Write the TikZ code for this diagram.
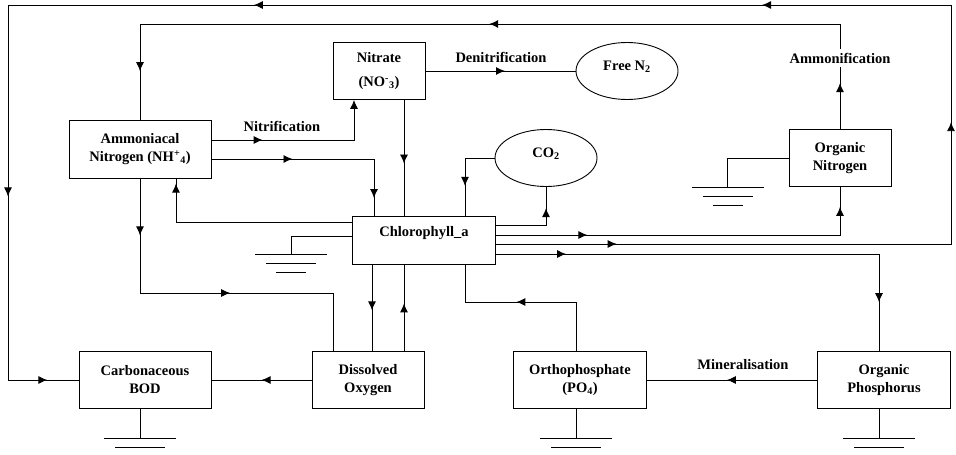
\documentclass[tikz,border=0pt]{standalone}
\usepackage{fontspec}
\setmainfont{Liberation Serif}
\usetikzlibrary{arrows.meta,decorations.markings,shapes.geometric}
\tikzset{
  box/.style={draw, inner sep=0pt, align=center, minimum height=57pt, font=\fontsize{14.5}{18}\selectfont\bfseries},
  oval/.style={ellipse, draw, inner sep=0pt, minimum width=102pt, minimum height=57pt, text depth=10pt, font=\fontsize{14.5}{18}\selectfont\bfseries},
  lbl/.style={font=\fontsize{14.5}{18}\selectfont\bfseries},
  marr/.style={postaction={decorate,decoration={markings,mark=at position #1 with {\arrow{Latex[length=9pt,width=8pt]}}}}},
  earth/.pic={\draw (-36,0) -- (36,0) (-25,9) -- (25,9) (-15,18) -- (15,18);},
  earthtwo/.pic={\draw (-36,0) -- (36,0) (-25,9) -- (25,9);}
}
\begin{document}
\begin{tikzpicture}[x=1pt,y=-1pt,line width=0.9pt]
\useasboundingbox (0,0) rectangle (956,455);
\tikzset{>={Latex[length=9pt,width=8pt]}}
\node[box, minimum width=92pt] (nit) at (379,71) {Nitrate\\[6pt](NO\textsuperscript{-}\textsubscript{3})};
\node[box, minimum width=142pt, minimum height=58pt] (amm) at (140,149) {Ammoniacal\\Nitrogen (NH\textsuperscript{+}\textsubscript{4})};
\node[box, minimum width=143pt, minimum height=48pt, text depth=18pt] (chl) at (424,240) {Chlorophyll\_a};
\node[box, minimum width=102pt] (orgn) at (840,158) {Organic\\Nitrogen};
\node[box, minimum width=132pt] (bod) at (145,380) {Carbonaceous\\BOD};
\node[box, minimum width=112pt] (oxy) at (368,380) {Dissolved\\Oxygen};
\node[box, minimum width=133pt] (ortho) at (580,380) {Orthophosphate\\(PO\textsubscript{4})};
\node[box, minimum width=133pt] (orgp) at (884,380) {Organic\\Phosphorus};
\node[oval] (freen) at (627,71) {Free N\textsubscript{2}};
\node[oval] (co2) at (546,158) {CO\textsubscript{2}};
\node[lbl] (nitrif) at (282,126) {Nitrification};
\node[lbl] (denit) at (501,57) {Denitrification};
\node[lbl] (ammon) at (840,58) {Ammonification};
\node[lbl] (miner) at (743,365) {Mineralisation};
\coordinate (ne) at (951,5);
\coordinate (nw) at (8,5);
\coordinate (ntop) at (840,24);
\coordinate (ammdo) at (140,293);
\coordinate (ortchl) at (576,302);
\draw[marr=0.28,->] ([yshift=9pt]amm.east) -| ([xshift=-25pt]nit.south);
\draw[marr=0.37,marr=0.92] ([yshift=-10pt]amm.east) -| ([xshift=-50pt]chl.north);
\draw[marr=0.55] ([xshift=25pt]nit.south) -- ([xshift=-20pt]chl.north);
\draw[marr=0.53] (nit.east) -- (freen.west);
\draw[marr=0.66] (co2.west) -| ([xshift=41pt]chl.north);
\draw[marr=0.76] ([yshift=15pt]chl.east) -| (co2.south);
\draw[marr=0.977] ([yshift=18pt]chl.west) -| ([xshift=36pt]amm.south);
\draw[marr=0.233,marr=0.949] ([yshift=5pt]chl.east) -| (orgn.south);
\draw[marr=0.058,marr=0.277,marr=0.424,marr=0.668,marr=0.878,marr=0.985] ([yshift=-4pt]chl.east) -| (ne) -- (nw) |- (bod.west);
\draw[marr=0.146,marr=0.898] ([yshift=-14pt]chl.east) -| ([xshift=-5pt]orgp.north);
\draw[marr=0.74] (orgn.north) -- (ammon.south);
\draw[marr=0.458,marr=0.941] (ammon.north) -- (ntop) -| (amm.north);
\draw[marr=0.156,marr=0.56] (amm.south) -- (ammdo) -| ([xshift=-35pt]oxy.north);
\draw[marr=0.53] ([xshift=-52pt]chl.south) -- ([xshift=4pt]oxy.north);
\draw[marr=0.55] ([xshift=36pt]oxy.north) -- ([xshift=-20pt]chl.south);
\draw[marr=0.55] ([xshift=-4pt]ortho.north) -- (ortchl) -| ([xshift=41pt]chl.south);
\draw[marr=0.5] (oxy.west) -- (bod.east);
\draw[marr=0.53] (orgp.west) -- (ortho.east);
\draw ([yshift=4pt]chl.west) -- ++(-61,0) -- ++(0,18) pic {earth};
\draw (orgn.west) -- ++(-61,0) -- ++(0,29) pic {earth};
\draw ([xshift=-5pt]bod.south) -- ++(0,29) pic {earthtwo};
\draw ([xshift=-4pt]ortho.south) -- ++(0,29) pic {earthtwo};
\draw ([xshift=-5pt]orgp.south) -- ++(0,29) pic {earthtwo};
\end{tikzpicture}
\end{document}
